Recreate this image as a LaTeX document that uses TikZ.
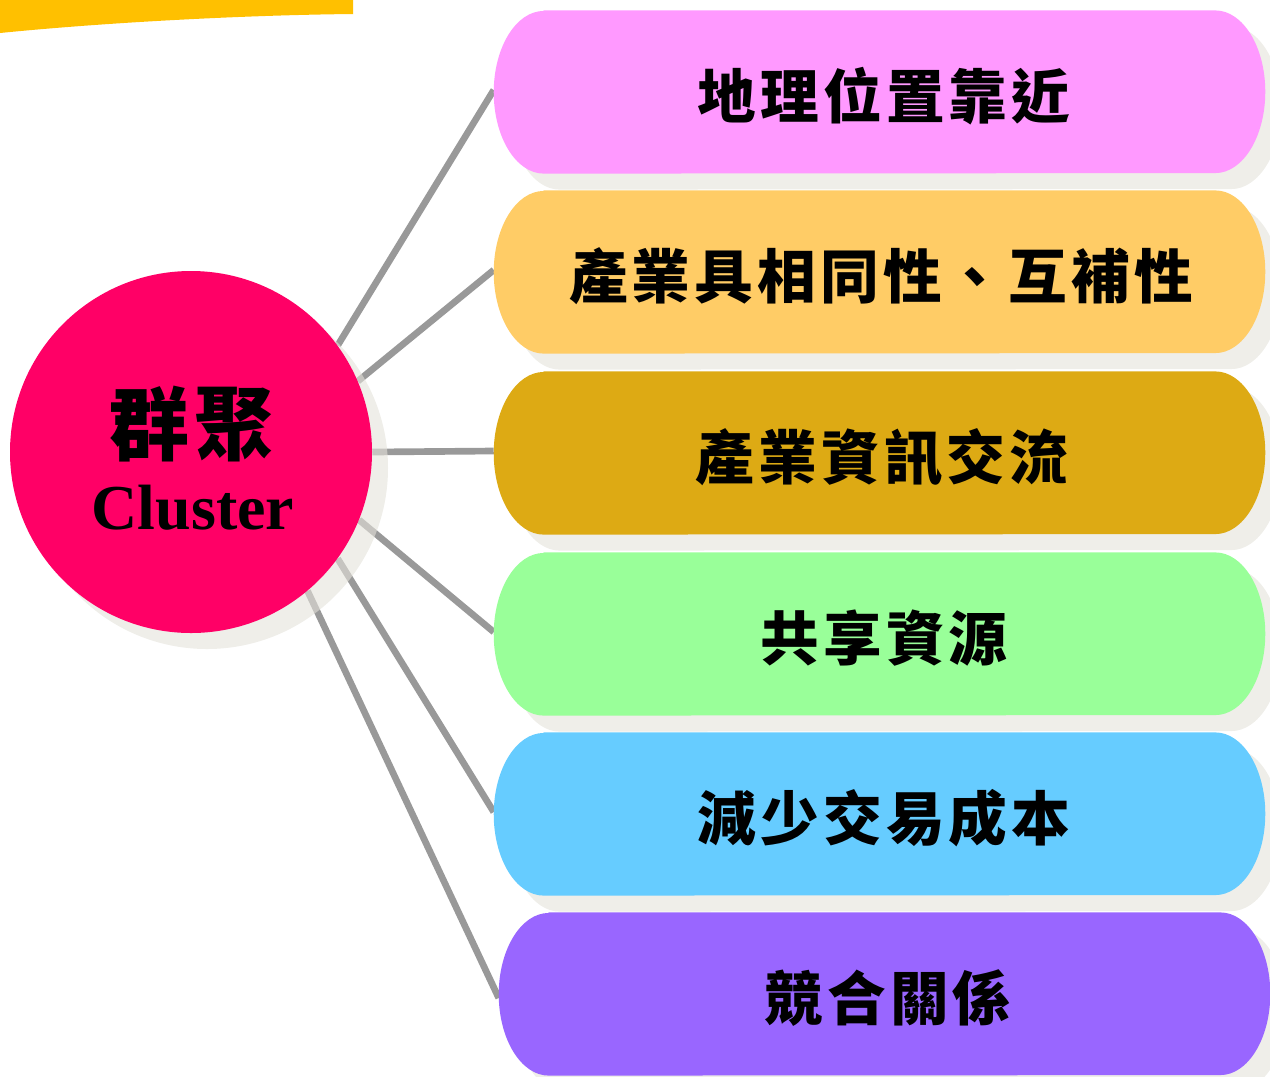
\documentclass[tikz,border=0pt]{standalone}
\usepackage{fontspec}
\setmainfont{Liberation Serif}
\newfontfamily\cjk{Noto Sans CJK TC}
\newfontfamily\cjkbox{Noto Sans CJK TC}[LetterSpace=7]
\newfontfamily\cjkcirc{Noto Sans CJK TC}[LetterSpace=6]
\pgfdeclarelayer{lineslayer}
\pgfdeclarelayer{shadowlayer}
\pgfdeclarelayer{pilllayer}
\pgfsetlayers{lineslayer,shadowlayer,pilllayer,main}
\definecolor{hdr}{HTML}{FFC000}
\definecolor{shad}{HTML}{E4E2DA}
\definecolor{linec}{HTML}{999999}
\definecolor{circc}{HTML}{FF0066}
\definecolor{cA}{HTML}{FF99FF}
\definecolor{cB}{HTML}{FFCC66}
\definecolor{cC}{HTML}{DDAA14}
\definecolor{cD}{HTML}{99FF99}
\definecolor{cE}{HTML}{66CCFF}
\definecolor{cF}{HTML}{9966FF}
\newcommand\mypill[3]{([xshift=#2+37.5pt,yshift=#3]#1.north west) -- ([xshift=#2-37.5pt,yshift=#3]#1.north east) arc[start angle=90,end angle=-90,x radius=37.5pt,y radius=61pt] -- ([xshift=#2+37.5pt,yshift=#3]#1.south west) arc[start angle=270,end angle=90,x radius=37.5pt,y radius=61pt] -- cycle}
\tikzset{
  boxnode/.style={rectangle, inner sep=0pt, minimum width=578.25pt, minimum height=122pt},
  boxtext/.style={inner sep=0pt, font=\cjkbox\bfseries\fontsize{44}{48}\selectfont},
  conn/.style={draw=linec, line width=5pt},
  shadowfill/.style={fill=shad, opacity=0.6}
}
\begin{document}
\begin{tikzpicture}[x=0.75pt,y=-0.75pt]
\useasboundingbox (0,0) rectangle (1270,1076);
% header band
\fill[hdr] (0,0) -- (353,0) -- (353,14) .. controls (250,15) and (110,22) .. (0,33) -- cycle;
% circle
\node[circle, fill=circc, minimum size=271.5pt, inner sep=0pt] (c) at (191,452) {};
\node[inner sep=0pt, font=\cjkcirc\bfseries\fontsize{60}{64}\selectfont] (t1) at (192,424) {群聚};
\node[font=\bfseries\fontsize{48}{52}\selectfont, inner sep=0pt] (t2) at (193,508) {Cluster};
% boxes
\node[boxnode] (b1) at (879.5,92) {};
\node[boxnode] (b2) at (879.5,272) {};
\node[boxnode] (b3) at (879.5,453) {};
\node[boxnode] (b4) at (879.5,634) {};
\node[boxnode] (b5) at (879.5,814) {};
\node[boxnode] (b6) at (884.5,994) {};
\node[boxtext] (l1) at (884,96) {地理位置靠近};
\node[boxtext] (l2) at (881,276) {產業具相同性、互補性};
\node[boxtext] (l3) at (882,457) {產業資訊交流};
\node[boxtext] (l4) at (884,638) {共享資源};
\node[boxtext] (l5) at (884,818) {減少交易成本};
\node[boxtext] (l6) at (888,998) {競合關係};
\begin{pgfonlayer}{pilllayer}
\fill[cA] \mypill{b1}{0pt}{0pt};
\fill[cB] \mypill{b2}{0pt}{0pt};
\fill[cC] \mypill{b3}{0pt}{0pt};
\fill[cD] \mypill{b4}{0pt}{0pt};
\fill[cE] \mypill{b5}{0pt}{0pt};
\fill[cF] \mypill{b6}{0pt}{0pt};
\end{pgfonlayer}
\begin{pgfonlayer}{shadowlayer}
\fill[shadowfill] ([xshift=12pt,yshift=-12pt]c.center) circle[radius=135.75pt];
\fill[shadowfill] \mypill{b1}{12pt}{-12pt};
\fill[shadowfill] \mypill{b2}{12pt}{-12pt};
\fill[shadowfill] \mypill{b3}{12pt}{-12pt};
\fill[shadowfill] \mypill{b4}{12pt}{-12pt};
\fill[shadowfill] \mypill{b5}{12pt}{-12pt};
\fill[shadowfill] \mypill{b6}{12pt}{-12pt};
\end{pgfonlayer}
\begin{pgfonlayer}{lineslayer}
\draw[conn] (c.36) -- ([yshift=1.5pt]b1.west);
\draw[conn] (c.23) -- ([yshift=1.5pt]b2.west);
\draw[conn] (c.0) -- ([yshift=1.5pt]b3.west);
\draw[conn] (c.-22) -- ([yshift=1.5pt]b4.west);
\draw[conn] (c.-36) -- ([yshift=1.5pt]b5.west);
\draw[conn] (c.-50) -- ([yshift=-3pt]b6.west);
\end{pgfonlayer}
\end{tikzpicture}
\end{document}
